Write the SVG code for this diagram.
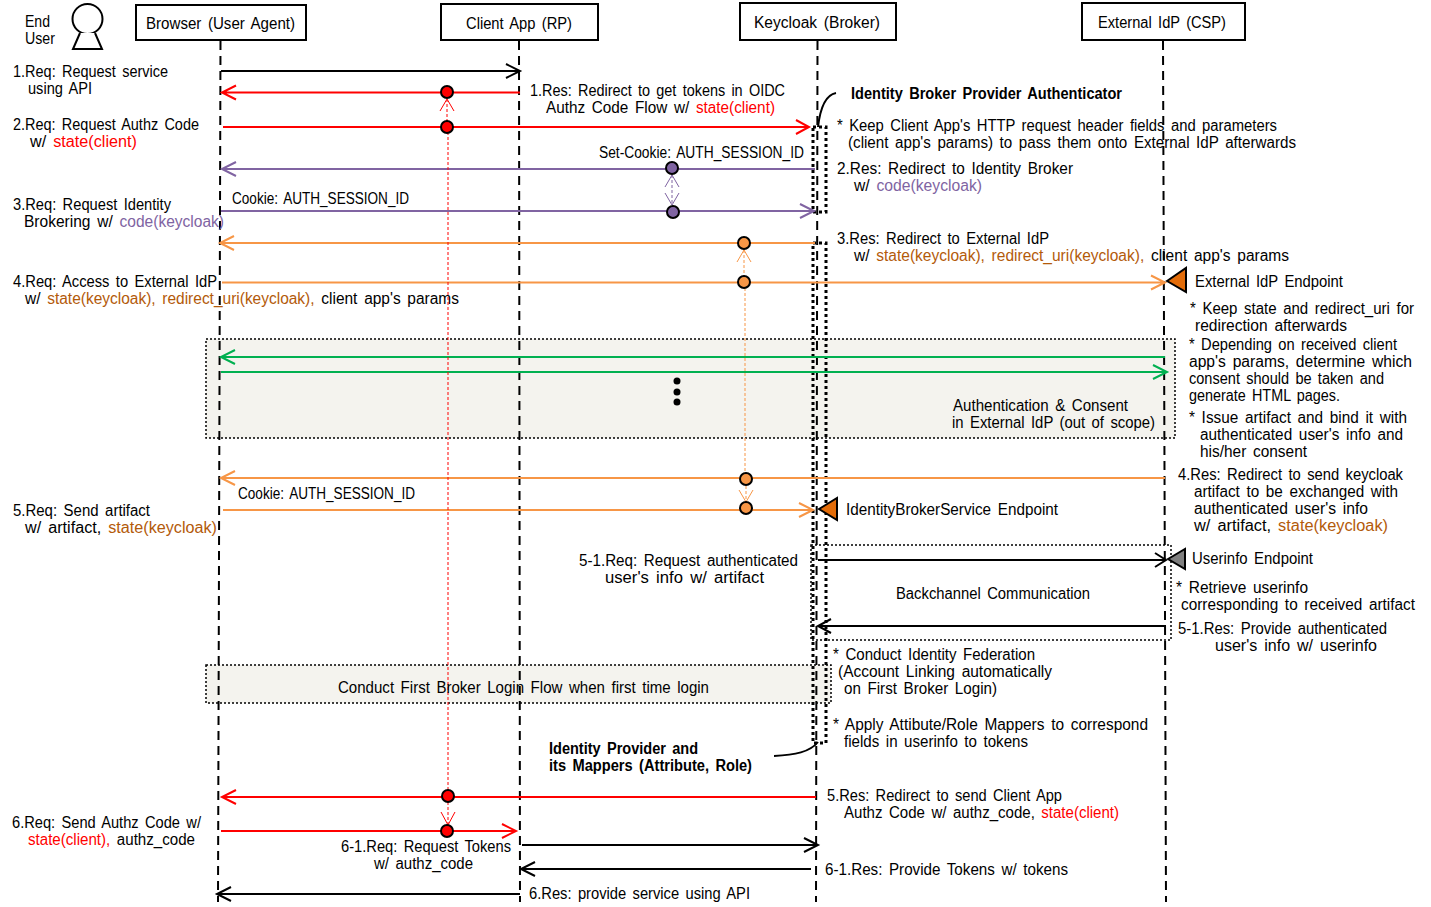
<svg xmlns="http://www.w3.org/2000/svg" width="1431" height="907" viewBox="0 0 1431 907">
<style>
text{font-family:"Liberation Sans",Arial,sans-serif;font-size:16px;fill:#000;word-spacing:2.5px}
.b{font-weight:bold}
.r{fill:#f00}.p{fill:#8064a2}.o{fill:#b35a0a}
.box{fill:#fff;stroke:#000;stroke-width:2}
.life{fill:none;stroke:#000;stroke-width:2;stroke-dasharray:9 6}
.l{fill:none;stroke-width:2}
.k{stroke:#000}.R{stroke:#f00}.P{stroke:#8064a2}.O{stroke:#f79646}.G{stroke:#00b050}
.head{fill:none;stroke-width:1}
.thin{fill:none;stroke-width:1;stroke-dasharray:3 2}
.dot{stroke:#000;stroke-width:2}
.area{fill:#f4f3ee;stroke:#000;stroke-width:1.5;stroke-dasharray:2 2}
.open{fill:none}
.bar{fill:none;stroke:#000;stroke-width:3;stroke-dasharray:3 3}
.tri{stroke:#000;stroke-width:2}
</style>
<g id="areas">
<rect class="area" x="206" y="339" width="969" height="99"/>
<rect class="area" x="206" y="665" width="625" height="38"/>
</g>
<g id="lifelines">
<path class="life" d="M220.500 41L218 902"/>
<path class="life" d="M519 41L520 902"/>
<path class="life" d="M817.500 41L816 902"/>
<path class="life" d="M1163 41L1166 902"/>
</g>
<g id="activations">
<rect class="bar" x="813" y="127" width="13" height="85"/>
<rect class="bar" x="813" y="243" width="13" height="500"/>
<rect class="area open" x="811" y="545" width="360" height="95"/>
<path d="M818 127C820 110 825 95 836 93M774 756C795 755 810 752 818 742" fill="none" stroke="#000" stroke-width="2"/>
</g>
<g id="connectors">
<path class="l k" d="M221 71H520M506 64L520 71L506 78"/>
<path class="l R" d="M520 92.500H222M236 85.500L222 92.500L236 99.500"/>
<path class="l R" d="M223 127H809M796 120L809 127L796 134"/>
<path class="l P" d="M815 169H222M236 162L222 169L236 176"/>
<path class="l P" d="M221 211H814M800 204L814 211L800 218"/>
<path class="l O" d="M815 243H220M234 236L220 243L234 250"/>
<path class="l O" d="M222 282.500H1165M1151 275.500L1165 282.500L1151 289.500"/>
<path class="l G" d="M1165 357H221M235 350L221 357L235 364"/>
<path class="l G" d="M221 372H1167M1153 365L1167 372L1153 379"/>
<path class="l O" d="M1165 478H221M235 471L221 478L235 485"/>
<path class="l O" d="M223 510H813M799 503L813 510L799 517"/>
<path class="l k" d="M818 560H1166M1155 553L1166 560L1155 567"/>
<path class="l k" d="M1166 626H818M831 619L818 626L831 633"/>
<path class="l R" d="M816 797H222M236 790L222 797L236 804"/>
<path class="l R" d="M221 831H516M502 824L516 831L502 838"/>
<path class="l k" d="M522 845H818M804 838L818 845L804 852"/>
<path class="l k" d="M811 869H521M535 862L521 869L535 876"/>
<path class="l k" d="M520 894H217M231 887L217 894L231 901"/>
<path class="thin R" d="M447 127V100"/>
<path class="head R" d="M440 111L447 99L454 111"/>
<path class="thin R" d="M448 132V825"/>
<path class="head R" d="M441 812L448 825L455 812"/>
<path class="thin P" d="M672 175V205"/>
<path class="head P" d="M665 187L672 175L679 187M665 193L672 205L679 193"/>
<path class="thin O" d="M744 250V276"/>
<path class="head O" d="M737 262L744 250L751 262"/>
<path class="thin O" d="M745 288V472"/>
<path class="thin O" d="M746 486V502"/>
<path class="head O" d="M739 490L746 502L753 490"/>
</g>
<g id="markers">
<circle class="dot" cx="447" cy="92" r="6" fill="#f00"/>
<circle class="dot" cx="447" cy="127" r="6" fill="#f00"/>
<circle class="dot" cx="672" cy="168" r="6" fill="#8064a2"/>
<circle class="dot" cx="673" cy="212" r="6" fill="#8064a2"/>
<circle class="dot" cx="744" cy="243" r="6" fill="#f79646"/>
<circle class="dot" cx="744" cy="282" r="6" fill="#f79646"/>
<circle class="dot" cx="746" cy="479" r="6" fill="#f79646"/>
<circle class="dot" cx="746" cy="508" r="6" fill="#f79646"/>
<circle class="dot" cx="448" cy="796" r="6" fill="#f00"/>
<circle class="dot" cx="447" cy="831" r="6" fill="#f00"/>
<circle cx="677" cy="381" r="3.500"/><circle cx="677" cy="392" r="3.500"/><circle cx="677" cy="402" r="3.500"/>
<polygon class="tri" points="1167,281 1186,268 1186,292" fill="#e36c09"/>
<polygon class="tri" points="819,509 837,498 837,520" fill="#e36c09"/>
<polygon class="tri" points="1168,559 1185,549 1185,569" fill="#7f7f7f"/>
</g>
<g id="actor">
<circle cx="87.500" cy="19" r="15" fill="#fff" stroke="#000" stroke-width="2"/>
<path d="M80 33L73 49H102L95 33" fill="#fff" stroke="#000" stroke-width="2"/>
<text x="25" y="27" textLength="25" lengthAdjust="spacingAndGlyphs">End</text>
<text x="25" y="44" textLength="30" lengthAdjust="spacingAndGlyphs">User</text>
</g>
<g id="browser"><rect class="box" x="136" y="5" width="170" height="35"/><text x="146" y="29" textLength="149" lengthAdjust="spacingAndGlyphs">Browser (User Agent)</text></g>
<g id="client"><rect class="box" x="441" y="4" width="157" height="36"/><text x="466" y="29" textLength="106" lengthAdjust="spacingAndGlyphs">Client App (RP)</text></g>
<g id="keycloak"><rect class="box" x="740" y="3" width="156" height="37"/><text x="754" y="28" textLength="126" lengthAdjust="spacingAndGlyphs">Keycloak (Broker)</text></g>
<g id="idp"><rect class="box" x="1082" y="3" width="163" height="37"/><text x="1098" y="28" textLength="128" lengthAdjust="spacingAndGlyphs">External IdP (CSP)</text></g>
<g id="labels">
<text x="13" y="77" textLength="155" lengthAdjust="spacingAndGlyphs">1.Req: Request service</text>
<text x="28" y="94" textLength="64" lengthAdjust="spacingAndGlyphs">using API</text>
<text x="13" y="130" textLength="186" lengthAdjust="spacingAndGlyphs">2.Req: Request Authz Code</text>
<text x="30" y="147" textLength="107" lengthAdjust="spacingAndGlyphs">w/ <tspan class="r">state(client)</tspan></text>
<text x="13" y="210" textLength="158" lengthAdjust="spacingAndGlyphs">3.Req: Request Identity</text>
<text x="24" y="227" textLength="200" lengthAdjust="spacingAndGlyphs">Brokering w/ <tspan class="p">code(keycloak)</tspan></text>
<text x="232" y="204" textLength="177" lengthAdjust="spacingAndGlyphs">Cookie: AUTH_SESSION_ID</text>
<text x="13" y="287" textLength="204" lengthAdjust="spacingAndGlyphs">4.Req: Access to External IdP</text>
<text x="25" y="304" textLength="434" lengthAdjust="spacingAndGlyphs">w/ <tspan class="o">state(keycloak), redirect_uri(keycloak),</tspan> client app's params</text>
<text x="13" y="516" textLength="137" lengthAdjust="spacingAndGlyphs">5.Req: Send artifact</text>
<text x="25" y="533" textLength="192" lengthAdjust="spacingAndGlyphs">w/ artifact, <tspan class="o">state(keycloak)</tspan></text>
<text x="238" y="499" textLength="177" lengthAdjust="spacingAndGlyphs">Cookie: AUTH_SESSION_ID</text>
<text x="12" y="828" textLength="189" lengthAdjust="spacingAndGlyphs">6.Req: Send Authz Code w/</text>
<text x="28" y="845" textLength="167" lengthAdjust="spacingAndGlyphs"><tspan class="r">state(client),</tspan> authz_code</text>
<text x="530" y="96" textLength="255" lengthAdjust="spacingAndGlyphs">1.Res: Redirect to get tokens in OIDC</text>
<text x="546" y="113" textLength="229" lengthAdjust="spacingAndGlyphs">Authz Code Flow w/ <tspan class="r">state(client)</tspan></text>
<text x="599" y="158" textLength="205" lengthAdjust="spacingAndGlyphs">Set-Cookie: AUTH_SESSION_ID</text>
<text x="579" y="566" textLength="219" lengthAdjust="spacingAndGlyphs">5-1.Req: Request authenticated</text>
<text x="605" y="583" textLength="159" lengthAdjust="spacingAndGlyphs">user's info w/ artifact</text>
<text x="341" y="852" textLength="170" lengthAdjust="spacingAndGlyphs">6-1.Req: Request Tokens</text>
<text x="374" y="869" textLength="99" lengthAdjust="spacingAndGlyphs">w/ authz_code</text>
<text x="529" y="899" textLength="221" lengthAdjust="spacingAndGlyphs">6.Res: provide service using API</text>
<text class="b" x="851" y="99" textLength="271" lengthAdjust="spacingAndGlyphs">Identity Broker Provider Authenticator</text>
<text x="837" y="131" textLength="440" lengthAdjust="spacingAndGlyphs">* Keep Client App's HTTP request header fields and parameters</text>
<text x="848" y="148" textLength="448" lengthAdjust="spacingAndGlyphs">(client app's params) to pass them onto External IdP afterwards</text>
<text x="837" y="174" textLength="236" lengthAdjust="spacingAndGlyphs">2.Res: Redirect to Identity Broker</text>
<text x="854" y="191" textLength="128" lengthAdjust="spacingAndGlyphs">w/ <tspan class="p">code(keycloak)</tspan></text>
<text x="837" y="244" textLength="212" lengthAdjust="spacingAndGlyphs">3.Res: Redirect to External IdP</text>
<text x="854" y="261" textLength="435" lengthAdjust="spacingAndGlyphs">w/ <tspan class="o">state(keycloak), redirect_uri(keycloak),</tspan> client app's params</text>
<text x="1195" y="287" textLength="148" lengthAdjust="spacingAndGlyphs">External IdP Endpoint</text>
<text x="1190" y="314" textLength="224" lengthAdjust="spacingAndGlyphs">* Keep state and redirect_uri for</text>
<text x="1195" y="331" textLength="152" lengthAdjust="spacingAndGlyphs">redirection afterwards</text>
<text x="1189" y="350" textLength="208" lengthAdjust="spacingAndGlyphs">* Depending on received client</text>
<text x="1189" y="367" textLength="223" lengthAdjust="spacingAndGlyphs">app's params, determine which</text>
<text x="1189" y="384" textLength="195" lengthAdjust="spacingAndGlyphs">consent should be taken and</text>
<text x="1189" y="401" textLength="151" lengthAdjust="spacingAndGlyphs">generate HTML pages.</text>
<text x="1189" y="423" textLength="218" lengthAdjust="spacingAndGlyphs">* Issue artifact and bind it with</text>
<text x="1200" y="440" textLength="203" lengthAdjust="spacingAndGlyphs">authenticated user's info and</text>
<text x="1200" y="457" textLength="107" lengthAdjust="spacingAndGlyphs">his/her consent</text>
<text x="1178" y="480" textLength="225" lengthAdjust="spacingAndGlyphs">4.Res: Redirect to send keycloak</text>
<text x="1194" y="497" textLength="204" lengthAdjust="spacingAndGlyphs">artifact to be exchanged with</text>
<text x="1194" y="514" textLength="174" lengthAdjust="spacingAndGlyphs">authenticated user's info</text>
<text x="1194" y="531" textLength="194" lengthAdjust="spacingAndGlyphs">w/ artifact, <tspan class="o">state(keycloak)</tspan></text>
<text x="953" y="411" textLength="175" lengthAdjust="spacingAndGlyphs">Authentication &amp; Consent</text>
<text x="952" y="428" textLength="203" lengthAdjust="spacingAndGlyphs">in External IdP (out of scope)</text>
<text x="846" y="515" textLength="212" lengthAdjust="spacingAndGlyphs">IdentityBrokerService Endpoint</text>
<text x="1192" y="564" textLength="121" lengthAdjust="spacingAndGlyphs">Userinfo Endpoint</text>
<text x="896" y="599" textLength="194" lengthAdjust="spacingAndGlyphs">Backchannel Communication</text>
<text x="1176" y="593" textLength="132" lengthAdjust="spacingAndGlyphs">* Retrieve userinfo</text>
<text x="1181" y="610" textLength="234" lengthAdjust="spacingAndGlyphs">corresponding to received artifact</text>
<text x="1178" y="634" textLength="209" lengthAdjust="spacingAndGlyphs">5-1.Res: Provide authenticated</text>
<text x="1215" y="651" textLength="162" lengthAdjust="spacingAndGlyphs">user's info w/ userinfo</text>
<text x="833" y="660" textLength="202" lengthAdjust="spacingAndGlyphs">* Conduct Identity Federation</text>
<text x="838" y="677" textLength="214" lengthAdjust="spacingAndGlyphs">(Account Linking automatically</text>
<text x="844" y="694" textLength="153" lengthAdjust="spacingAndGlyphs">on First Broker Login)</text>
<text x="338" y="693" textLength="371" lengthAdjust="spacingAndGlyphs">Conduct First Broker Login Flow when first time login</text>
<text x="833" y="730" textLength="315" lengthAdjust="spacingAndGlyphs">* Apply Attibute/Role Mappers to correspond</text>
<text x="844" y="747" textLength="184" lengthAdjust="spacingAndGlyphs">fields in userinfo to tokens</text>
<text class="b" x="549" y="754" textLength="149" lengthAdjust="spacingAndGlyphs">Identity Provider and</text>
<text class="b" x="549" y="771" textLength="203" lengthAdjust="spacingAndGlyphs">its Mappers (Attribute, Role)</text>
<text x="827" y="801" textLength="235" lengthAdjust="spacingAndGlyphs">5.Res: Redirect to send Client App</text>
<text x="844" y="818" textLength="275" lengthAdjust="spacingAndGlyphs">Authz Code w/ authz_code, <tspan class="r">state(client)</tspan></text>
<text x="825" y="875" textLength="243" lengthAdjust="spacingAndGlyphs">6-1.Res: Provide Tokens w/ tokens</text>
</g>
</svg>
